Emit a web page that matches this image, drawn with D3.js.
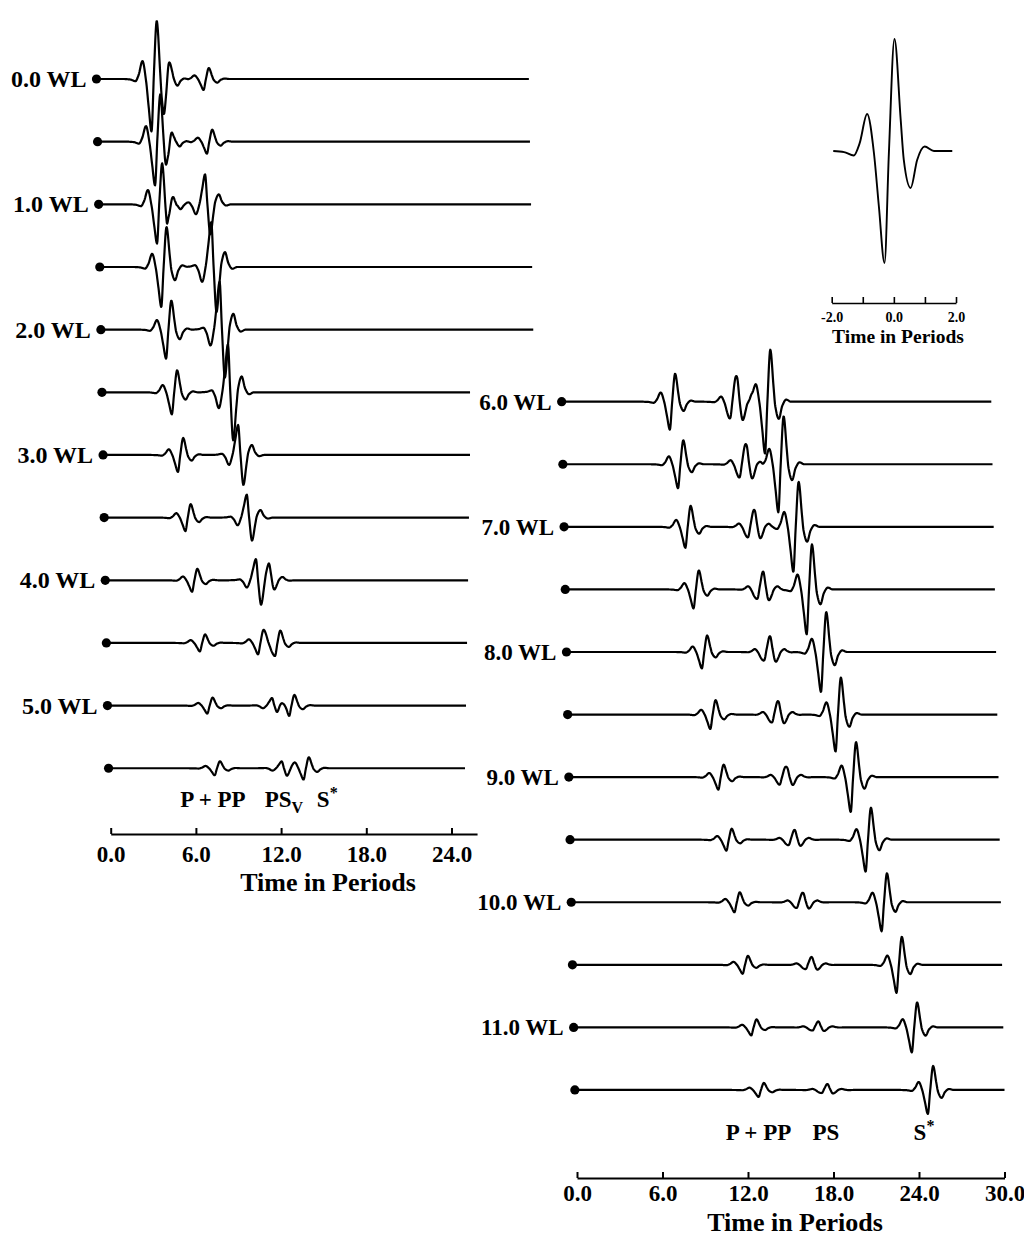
<!DOCTYPE html>
<html><head><meta charset="utf-8">
<script src="https://cdn.jsdelivr.net/npm/d3@7"></script>
<style>
body{margin:0;background:#fff}
svg{display:block}
text{font-family:"Liberation Serif","Times New Roman",serif;font-weight:bold;fill:#000}
</style>
</head><body>
<svg id="chart" width="1024" height="1236"></svg>
<script>
// ---------- DATA ----------
// Source wavelet (time in periods, normalized amplitude)
const waveletT = [-1.95,-1.6,-1.29,-1.1,-0.86,-0.64,-0.48,-0.30,-0.16,0.02,0.22,0.32,0.54,0.75,0.99,1.29,1.88];
const waveletA = [0,-0.01,-0.04,0.07,0.33,-0.02,-0.5,-1.0,-0.02,1.0,0.28,-0.08,-0.33,-0.08,0.04,0,0];
const waveletZero = -0.155; // zero crossing between main trough and main peak

// Receiver distances (wavelengths)
const leftDist  = [0.0,0.5,1.0,1.5,2.0,2.5,3.0,3.5,4.0,4.5,5.0,5.5];
const rightDist = [6.0,6.5,7.0,7.5,8.0,8.5,9.0,9.5,10.0,10.5,11.0,11.5];

// Arrivals per trace: [time in periods, amplitude] (negative = reversed polarity)
const leftArrivals = [
  [[3.90,55],[4.75,20],[7.56,11]],
  [[4.07,48],[4.81,16],[7.72,12]],
  [[4.13,45],[4.80,18],[7.51,-30]],
  [[4.35,40],[7.87,-45]],
  [[4.61,29],[8.38,-48]],
  [[4.94,22],[8.89,-48]],
  [[5.29,17],[9.53,-30]],
  [[5.74,13.5],[10.06,-23]],
  [[6.13,11.5],[10.63,-22],[11.53,-10]],
  [[6.60,8.5],[10.70,11],[11.90,12]],
  [[7.05,8],[11.61,-8],[12.81,11]],
  [[7.49,7],[12.21,-7],[13.75,11]]
];
const rightArrivals = [
  [[7.61,28],[11.85,14],[12.34,-14],[14.29,52]],
  [[8.10,24],[12.43,11],[12.92,-11],[15.14,48]],
  [[8.53,21],[12.94,9],[13.41,-9],[16.11,45]],
  [[9.02,19],[13.51,9],[13.92,-9],[16.96,45]],
  [[9.52,16.5],[13.90,8],[14.32,-8],[17.88,40]],
  [[10.03,14.5],[14.37,7],[14.82,-7],[18.82,37]],
  [[10.51,12.5],[14.82,6],[15.35,-6],[19.80,35]],
  [[10.99,11],[15.37,5],[15.80,-5],[20.76,32]],
  [[11.47,10],[15.85,5],[16.31,-5],[21.80,29]],
  [[11.96,9],[16.40,4],[16.82,-4],[22.76,28]],
  [[12.48,8],[16.80,3],[17.20,-3],[23.75,25]],
  [[12.91,7],[17.36,3],[17.75,-3],[24.79,24]]
];
// Trace end times (periods)
const leftEnd  = [30.3,30.3,30.3,30.3,30.3,25.77,25.69,25.54,25.4,25.25,25.1,24.95];
const rightEnd = [30,30,30,30,30,30,30,30,30,30,30,30];

const leftTicks  = [0,6,12,18,24];
const rightTicks = [0,6,12,18,24,30];
const insetTicks = [-2,-1,0,1,2];
const insetTickLabels = ["-2.0","","0.0","","2.0"];

const leftPhases  = [{t:7.2,txt:"P + PP"},{t:12.2,txt:"PS",sub:"V"},{t:15.25,txt:"S",sup:"*"}];
const rightPhases = [{t:12.74,txt:"P + PP"},{t:17.47,txt:"PS"},{t:24.35,txt:"S",sup:"*"}];
const axisTitle = "Time in Periods";

// ---------- LAYOUT ----------
const svg = d3.select("#chart");
const fmt = d => d.toFixed(1);
const traceStretch = 1.15; // recorded pulses are slightly broader than the inset plot

// monotone cubic evaluation of the sampled wavelet
function makeWavelet(xs, ys){
  const n = xs.length, d = [], m = new Array(n);
  for (let i=0;i<n-1;i++) d.push((ys[i+1]-ys[i])/(xs[i+1]-xs[i]));
  m[0]=d[0]; m[n-1]=d[n-2];
  for (let i=1;i<n-1;i++){
    if (d[i-1]*d[i] <= 0) m[i]=0;
    else { const h0=xs[i]-xs[i-1], h1=xs[i+1]-xs[i]; const w1=2*h1+h0, w2=h1+2*h0; m[i]=(w1+w2)/(w1/d[i-1]+w2/d[i]); }
  }
  return x => {
    if (x<=xs[0] || x>=xs[n-1]) return 0;
    const i = d3.bisectRight(xs, x)-1;
    const h = xs[i+1]-xs[i], t=(x-xs[i])/h, t2=t*t, t3=t2*t;
    return (2*t3-3*t2+1)*ys[i] + (t3-2*t2+t)*h*m[i] + (-2*t3+3*t2)*ys[i+1] + (t3-t2)*h*m[i+1];
  };
}
const W = makeWavelet(waveletT, waveletA);

function drawPanel(cfg){
  const g = svg.append("g");
  const x = d3.scaleLinear().domain([0, cfg.axisMax]).range([cfg.x0, cfg.x0 + cfg.pxPer*cfg.axisMax]);
  const yRow = d3.scaleLinear().domain([0, cfg.dist.length-1]).range([cfg.y0, cfg.y0 + cfg.step*(cfg.dist.length-1)]);
  const amp = d3.scaleLinear().domain([-100,100]).range([100,-100]);
  const n = cfg.dist.length;
  cfg.dist.forEach((dist, r) => {
    const skew = (r - (n-1))*cfg.skew;
    const ry = yRow(r);
    const tr = g.append("g").attr("transform", `translate(${skew},${ry})`);
    const t0 = -0.15, t1 = cfg.end[r];
    const pts = d3.range(t0, t1, 0.03).concat([t1]).map(t => {
      let v = 0;
      cfg.arrivals[r].forEach(([c,a]) => { v += a * W((t - c)/traceStretch + waveletZero); });
      return [t, v];
    });
    tr.append("path")
      .attr("d", d3.line().x(d => x(d[0])).y(d => amp(d[1]))(pts))
      .attr("fill","none").attr("stroke","#000").attr("stroke-width",2.2).attr("stroke-linejoin","round");
    tr.append("circle").attr("cx", x(t0)).attr("cy", 0).attr("r", 4.6).attr("fill","#000");
    if (Number.isInteger(dist)) {
      tr.append("text").attr("x", x(t0) - 10).attr("y", 0).attr("dy","0.34em")
        .attr("text-anchor","end").style("font-size", cfg.labelSize+"px")
        .text(fmt(dist) + " WL");
    }
  });
  // phase labels
  cfg.phases.forEach(p => {
    const t = g.append("text").attr("x", x(p.t)).attr("y", cfg.phaseY)
      .attr("text-anchor","middle").style("font-size","23px");
    t.append("tspan").text(p.txt);
    if (p.sub) t.append("tspan").attr("dy",6).style("font-size","16px").text(p.sub);
    if (p.sup) t.append("tspan").attr("dy",-9).style("font-size","16px").text(p.sup);
  });
  // axis
  const ax = d3.axisBottom(x).tickValues(cfg.ticks).tickFormat(fmt).tickSizeInner(-6).tickSizeOuter(0).tickPadding(cfg.tickPad);
  const ag = g.append("g").attr("transform", `translate(0,${cfg.axisY})`).call(ax);
  ag.select(".domain").attr("stroke","#000").attr("stroke-width",2);
  ag.selectAll(".tick line").attr("stroke","#000").attr("stroke-width",2);
  ag.selectAll(".tick text").style("font-size","23px").style("font-family",'"Liberation Serif",serif').style("font-weight","bold").attr("fill","#000");
  g.append("text").attr("x", cfg.titleX).attr("y", cfg.titleY).attr("text-anchor","middle")
    .style("font-size","26px").text(axisTitle);
}

drawPanel({dist:leftDist, arrivals:leftArrivals, end:leftEnd, x0:110.7, pxPer:14.2, axisMax:25.8,
  y0:79, step:62.66, skew:1.1, ticks:leftTicks, axisY:834, tickPad:12, titleX:328, titleY:891,
  phases:leftPhases, phaseY:807, labelSize:24});
drawPanel({dist:rightDist, arrivals:rightArrivals, end:rightEnd, x0:577, pxPer:14.25, axisMax:30,
  y0:401.7, step:62.57, skew:1.2, ticks:rightTicks, axisY:1178, tickPad:7, titleX:795, titleY:1231,
  phases:rightPhases, phaseY:1140, labelSize:23});

// ---------- INSET ----------
(function(){
  const g = svg.append("g");
  const x = d3.scaleLinear().domain([-2,2]).range([831.7,956]);
  const y = d3.scaleLinear().domain([-1,1]).range([263,39]);
  g.append("path")
    .attr("d", d3.line().curve(d3.curveMonotoneX).x((d,i)=>x(waveletT[i])).y((d,i)=>y(waveletA[i]))(waveletT))
    .attr("fill","none").attr("stroke","#000").attr("stroke-width",1.9);
  const ax = d3.axisBottom(x).tickValues(insetTicks).tickFormat((d,i)=>insetTickLabels[i]).tickSizeInner(-6).tickSizeOuter(0).tickPadding(9);
  const ag = g.append("g").attr("transform","translate(0,303)").call(ax);
  ag.select(".domain").attr("stroke","#000").attr("stroke-width",1.6);
  ag.selectAll(".tick line").attr("stroke","#000").attr("stroke-width",1.6);
  ag.selectAll(".tick text").style("font-size","14px").style("font-family",'"Liberation Serif",serif').style("font-weight","bold").attr("fill","#000");
  g.append("text").attr("x",898).attr("y",343).attr("text-anchor","middle").style("font-size","19.5px").text(axisTitle);
})();
</script>
</body></html>
